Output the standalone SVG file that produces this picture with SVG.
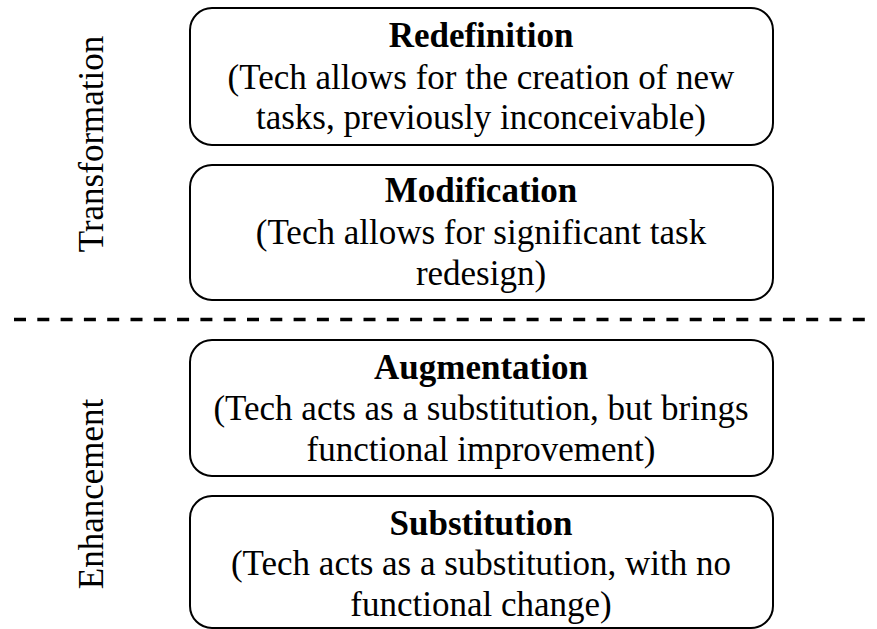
<svg xmlns="http://www.w3.org/2000/svg" width="877" height="629" viewBox="0 0 877 629">
<style>
.box{fill:#fff;stroke:#000;stroke-width:2}
.t{font-family:"Liberation Serif","Times New Roman",serif;font-size:35px;fill:#000;text-anchor:middle}
.b{font-weight:bold}
.side{font-family:"Liberation Serif","Times New Roman",serif;font-size:35px;fill:#000;text-anchor:middle}
</style>
<rect width="877" height="629" fill="#fff"/>
<g id="connectors">
<line x1="14" y1="319.5" x2="870" y2="319.5" stroke="#000" stroke-width="3.5" stroke-dasharray="12 11.3"/>
</g>
<g id="label-transformation"><text class="side" transform="translate(103,144) rotate(-90)">Transformation</text></g>
<g id="label-enhancement"><text class="side" transform="translate(103,494) rotate(-90)">Enhancement</text></g>
<g id="redefinition">
<rect class="box" x="190" y="8" width="583" height="137" rx="22"/>
<text class="t b" x="481" y="47">Redefinition</text>
<text class="t" x="481" y="89">(Tech allows for the creation of new</text>
<text class="t" x="481" y="129">tasks, previously inconceivable)</text>
</g>
<g id="modification">
<rect class="box" x="190" y="165" width="583" height="135" rx="22"/>
<text class="t b" x="481" y="202">Modification</text>
<text class="t" x="481" y="244">(Tech allows for significant task</text>
<text class="t" x="481" y="285">redesign)</text>
</g>
<g id="augmentation">
<rect class="box" x="190" y="340" width="583" height="136" rx="22"/>
<text class="t b" x="481" y="378.5">Augmentation</text>
<text class="t" x="481" y="419.5">(Tech acts as a substitution, but brings</text>
<text class="t" x="481" y="460.5">functional improvement)</text>
</g>
<g id="substitution">
<rect class="box" x="190" y="496" width="583" height="132" rx="22"/>
<text class="t b" x="481" y="534.5">Substitution</text>
<text class="t" x="481" y="575">(Tech acts as a substitution, with no</text>
<text class="t" x="481" y="615.5">functional change)</text>
</g>
</svg>
